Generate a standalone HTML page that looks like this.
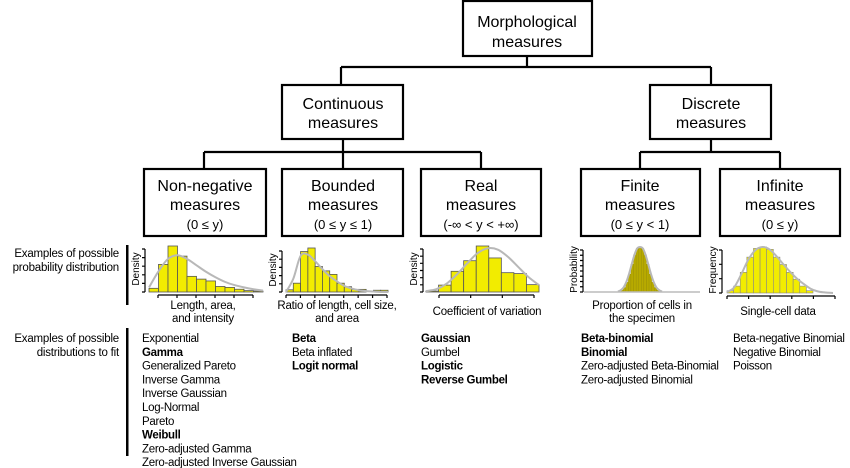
<!DOCTYPE html>
<html><head><meta charset="utf-8"><style>
body{margin:0;background:#fff}
svg{display:block;font-family:"Liberation Sans",Arial,sans-serif}
</style></head><body>
<svg id="fig" width="850" height="468" viewBox="0 0 850 468">
<g id="tree" fill="none" stroke="#000" stroke-width="2.2">
 <path d="M527 56V67M341 67H711M341 67V85M711 67V85"/>
 <path d="M343 139V152M204 152H481M204 152V169M343 152V169M481 152V169"/>
 <path d="M711 139V152M640 152H780M640 152V169M780 152V169"/>
</g>
<g stroke="#000" stroke-width="2.2" fill="#fff">
 <rect x="463" y="1" width="129" height="55"/>
 <rect x="282" y="85" width="121" height="54"/>
 <rect x="650" y="85" width="121" height="54"/>
 <rect x="144" y="169" width="122" height="67"/>
 <rect x="282" y="169" width="121" height="67"/>
 <rect x="421" y="169" width="120" height="67"/>
 <rect x="581" y="169" width="119" height="67"/>
 <rect x="720" y="169" width="120" height="67"/>
</g>
<g font-size="16" text-anchor="middle" fill="#000">
 <text x="527" y="27">Morphological</text>
 <text x="527" y="47">measures</text>
 <text x="343" y="109">Continuous</text>
 <text x="343" y="128">measures</text>
 <text x="711" y="109">Discrete</text>
 <text x="711" y="128">measures</text>
 <text x="205" y="191">Non-negative</text>
 <text x="205" y="210">measures</text>
 <text x="205" y="229" font-size="13">(0 ≤ y)</text>
 <text x="343" y="191">Bounded</text>
 <text x="343" y="210">measures</text>
 <text x="343" y="229" font-size="13">(0 ≤ y ≤ 1)</text>
 <text x="481" y="191">Real</text>
 <text x="481" y="210">measures</text>
 <text x="481" y="229" font-size="13">(-∞ &lt; y &lt; +∞)</text>
 <text x="640" y="191">Finite</text>
 <text x="640" y="210">measures</text>
 <text x="640" y="229" font-size="13">(0 ≤ y &lt; 1)</text>
 <text x="780" y="191">Infinite</text>
 <text x="780" y="210">measures</text>
 <text x="780" y="229" font-size="13">(0 ≤ y)</text>
</g>
<g font-size="11.5" text-anchor="end" fill="#000" letter-spacing="-0.2">
 <text x="119" y="257">Examples of possible</text>
 <text x="119" y="271">probability distribution</text>
 <text x="119" y="342">Examples of possible</text>
 <text x="119" y="356">distributions to fit</text>
</g>
<rect x="126" y="245" width="2.5" height="60" fill="#000"/>
<rect x="126" y="328" width="2.5" height="128" fill="#000"/>
<g id="plots"></g>
<g font-size="11.5" text-anchor="middle" fill="#000" letter-spacing="-0.2">
 <text x="203" y="309">Length, area,</text>
 <text x="203" y="322">and intensity</text>
 <text x="337" y="309">Ratio of length, cell size,</text>
 <text x="337" y="322">and area</text>
 <text x="487" y="315">Coefficient of variation</text>
 <text x="642" y="309">Proportion of cells in</text>
 <text x="642" y="322">the specimen</text>
 <text x="778" y="315">Single-cell data</text>
</g>
<g id="lists" font-size="11.5" fill="#000" letter-spacing="-0.3"></g>
</svg>
<script>
const NS="http://www.w3.org/2000/svg";
const nonnegBars=[0.08,0.6,1.0,0.78,0.34,0.28,0.24,0.12,0.1,0.06,0.03,0.02];
const nonnegCurve=[0.1,0.45,0.72,0.8,0.72,0.58,0.44,0.32,0.22,0.15,0.1,0.06,0.03];
const boundedBars=[0.05,0.2,0.92,1.0,0.58,0.48,0.4,0.2,0.12,0.06,0.06,0,0.04,0.04];
const boundedCurve=[0,0.3,0.82,0.85,0.7,0.52,0.36,0.24,0.14,0.08,0.04,0.02,0.01,0,0];
const realBars=[0.02,0.15,0.45,0.68,1.0,0.74,0.42,0.4,0.16];
const realCurve=[0.02,0.06,0.18,0.38,0.62,0.84,0.95,0.92,0.76,0.54,0.32,0.15];
const finiteBars=[0.01,0.04,0.1,0.22,0.4,0.62,0.83,0.97,1.0,0.97,0.83,0.62,0.4,0.22,0.1,0.04,0.01];
const infiniteBars=[0.05,0.15,0.45,0.78,0.97,1.0,0.95,0.78,0.62,0.45,0.3,0.15,0.05];
const infiniteCurve=[0.02,0.12,0.4,0.72,0.93,1.0,0.95,0.8,0.62,0.45,0.3,0.18,0.08,0.03,0.01,0];
const yLabels=["Density","Density","Density","Probability","Frequency"];
const lists=[
 {x:142,items:[["Exponential",0],["Gamma",1],["Generalized Pareto",0],["Inverse Gamma",0],["Inverse Gaussian",0],["Log-Normal",0],["Pareto",0],["Weibull",1],["Zero-adjusted Gamma",0],["Zero-adjusted Inverse Gaussian",0]]},
 {x:292,items:[["Beta",1],["Beta inflated",0],["Logit normal",1]]},
 {x:421,items:[["Gaussian",1],["Gumbel",0],["Logistic",1],["Reverse Gumbel",1]]},
 {x:581,items:[["Beta-binomial",1],["Binomial",1],["Zero-adjusted Beta-Binomial",0],["Zero-adjusted Binomial",0]]},
 {x:733,items:[["Beta-negative Binomial",0],["Negative Binomial",0],["Poisson",0]]}
];
const plots=document.getElementById('plots');
function mk(tag,attrs,parent){const e=document.createElementNS(NS,tag);for(const k in attrs)e.setAttribute(k,attrs[k]);(parent||plots).appendChild(e);return e;}
function hist(cfg,idx){
 const g=mk('g',{});
 
 
 const n=cfg.bars.length,bw=(cfg.x1-cfg.x0)/n,h=cfg.base-cfg.top;
 const ys=v=>cfg.base-v*h;
 cfg.bars.forEach((v,i)=>{if(v<=0)return;
  const r=mk('rect',{x:cfg.x0+i*bw,y:ys(v),width:bw,height:v*h,fill:cfg.fill,stroke:cfg.stroke,'stroke-width':cfg.sw},g);
  
  
 });
 if(cfg.curve){const m=cfg.curve.length,cx0=cfg.cx0,cx1=cfg.cx1;
  const pts=cfg.curve.map((v,i)=>[cx0+i*(cx1-cx0)/(m-1),ys(v)]);
  let d='M'+pts[0][0]+' '+pts[0][1];
  for(let i=1;i<m;i++){const p0=pts[Math.max(0,i-2)],p1=pts[i-1],p2=pts[i],p3=pts[Math.min(m-1,i+1)];
   d+=' C'+(p1[0]+(p2[0]-p0[0])/6)+' '+(p1[1]+(p2[1]-p0[1])/6)+' '+(p2[0]-(p3[0]-p1[0])/6)+' '+(p2[1]-(p3[1]-p1[1])/6)+' '+p2[0]+' '+p2[1];}
  const c=mk('path',{d:d,fill:'none',stroke:'#b8b8b8','stroke-width':2},g);
  
  
 }
 const ax=mk('path',{d:`M${cfg.ax} ${cfg.top+3}V${cfg.base}`,stroke:'#000','stroke-width':1.2,fill:'none'},g);
 
 
 let td='';for(let i=0;i<cfg.yt;i++){const y=cfg.base-i*(cfg.base-cfg.top-3)/(cfg.yt-1);td+=`M${cfg.ax-3} ${y}H${cfg.ax}`;}
 mk('path',{d:td,stroke:'#000','stroke-width':1.2},g);
 if(cfg.xt){let xd=`M${cfg.xa0} ${cfg.xy}H${cfg.xa1}`;for(let i=0;i<cfg.xt;i++){const x=cfg.xa0+i*(cfg.xa1-cfg.xa0)/(cfg.xt-1);xd+=`M${x} ${cfg.xy}V${cfg.xy+3}`;}
  const xa=mk('path',{d:xd,stroke:'#000','stroke-width':1.2,fill:'none'},g);
  
  }
 const t=mk('text',{x:0,y:0,'font-size':10,'text-anchor':'middle',transform:`translate(${cfg.ax-6} ${(cfg.top+cfg.base)/2}) rotate(-90)`},g);
 t.textContent=yLabels[idx];
 
 
}
const Y='#f2ec00';
hist({name:'nonneg-histogram',bars:nonnegBars,curve:nonnegCurve,x0:149,x1:263,cx0:149,cx1:263,top:246,base:292,fill:Y,stroke:'#555',sw:0.8,ax:145,yt:6,xt:6,xa0:158,xa1:253,xy:295},0);
hist({name:'bounded-histogram',bars:boundedBars,curve:boundedCurve,x0:286,x1:388,cx0:286,cx1:388,top:248,base:292,fill:Y,stroke:'#555',sw:0.8,ax:282,yt:6,xt:8,xa0:286,xa1:387,xy:295},1);
hist({name:'real-histogram',bars:realBars,curve:realCurve,x0:426,x1:539,cx0:426,cx1:539,top:246,base:292,fill:Y,stroke:'#555',sw:0.8,ax:423,yt:7,xt:4,xa0:439,xa1:534,xy:295},2);
hist({name:'finite-histogram',bars:finiteBars,curve:finiteBars.concat([]),x0:618,x1:662,cx0:618,cx1:662,top:247,base:292,fill:'#b7aa00',stroke:'#8e8400',sw:0.3,ax:583,yt:9,xt:0,xa0:0,xa1:0,xy:0},3);
mk('path',{d:'M584 292H700',stroke:'#bbb','stroke-width':1.5});
hist({name:'infinite-histogram',bars:infiniteBars,curve:infiniteCurve,x0:727,x1:813,cx0:727,cx1:833,top:247,base:293,fill:Y,stroke:'#888',sw:0.6,ax:722,yt:4,xt:6,xa0:727,xa1:835,xy:296},4);
const L=document.getElementById('lists');
lists.forEach((col,ci)=>{col.items.forEach((it,i)=>{
 const t=mk('text',{x:col.x,y:342+i*13.8,'font-weight':it[1]?'bold':'normal'},L);
 t.textContent=it[0];
 
 
});});
</script>
</body></html>
